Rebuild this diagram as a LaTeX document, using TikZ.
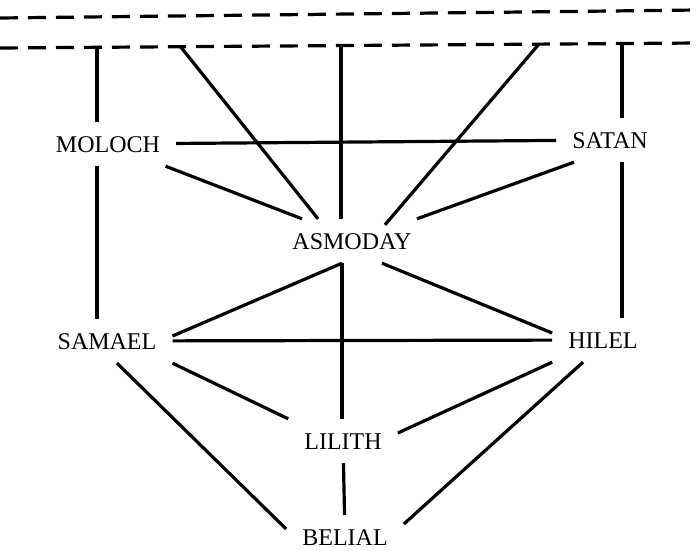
\documentclass[tikz,border=0pt]{standalone}
\usepackage{fontspec}
\setmainfont{Liberation Serif}

\begin{document}
\begin{tikzpicture}[
    x=1pt,y=-1pt,
    demon/.style={
      font=\fontsize{24}{24}\selectfont,
      text height=16pt,
      text depth=0pt,
      inner xsep=16pt,
      inner ysep=14pt
    },
    link/.style={
      line width=3.2pt
    },
    border/.style={
      line width=3.2pt,
      dash pattern=on 18pt off 10pt
    }
    ]
    \useasboundingbox (0,0) rectangle (697,550);
    \node[demon] (moloch) at (108,144) 
      {MOLOCH};
    \node[demon] (satan) at (610,140) 
      {SATAN};
    \node[demon] (asmoday) at (352,241) 
      {ASMODAY};
    \node[demon] (samael) at (107,341) 
      {SAMAEL};
    \node[demon] (hilel) at (603,340) 
      {HILEL};
    \node[demon] (lilith) at (343,441) 
      {LILITH};
    \node[demon] (belial) at (345,537) 
      {BELIAL};

    \coordinate (d1w) at (0,18);
    \coordinate (d1e) at (697,10);
    \coordinate (d2w) at (0,48);
    \coordinate (d2e) at (697,43);
    \draw[border] (d1w) -- (d1e);
    \draw[border] (d2w) -- (d2e);

    \coordinate (t1) at (97,47);
    \coordinate (t2) at (180,46);
    \coordinate (t3) at (341,45);
    \coordinate (t4) at (539,44);
    \coordinate (t5) at (622,43);

    \draw[link] (t1) -- (t1 |- moloch.north);
    \draw[link] (moloch.south -| t1) -- (samael.north -| t1);
    \draw[link] (t5) -- (t5 |- satan.north);
    \draw[link] (satan.south -| t5) -- (hilel.north -| t5);
    \draw[link] (t2) -- ([xshift=-34pt]asmoday.north);
    \draw[link] (t3) -- (t3 |- asmoday.north);
    \draw[link] (t4) -- ([xshift=33pt,yshift=-6pt]asmoday.north);

    \draw[link] (moloch) -- (satan);
    \draw[link] (moloch) -- ([xshift=-50pt]asmoday.north);
    \draw[link] ([xshift=-36pt]satan.south) -- ([xshift=65pt]asmoday.north);

    \draw[link] ([xshift=-10pt]asmoday.south) -- ([yshift=5pt]samael.east);
    \draw[link] ([xshift=-10pt]asmoday.south) -- ([xshift=-1pt]lilith.north);
    \draw[link] ([xshift=30pt]asmoday.south) -- ([yshift=7pt]hilel.west);

    \draw[link] (samael) -- (hilel);
    \draw[link] (samael.south east) -- (lilith.north west);
    \draw[link] ([xshift=10pt]samael.south) -- ([yshift=8pt]belial.west);
    \draw[link] (hilel.south west) -- ([yshift=8pt]lilith.east);
    \draw[link] ([xshift=-20pt]hilel.south) -- ([yshift=13pt]belial.east);
    \draw[link] (lilith) -- (belial);
\end{tikzpicture}
\end{document}
